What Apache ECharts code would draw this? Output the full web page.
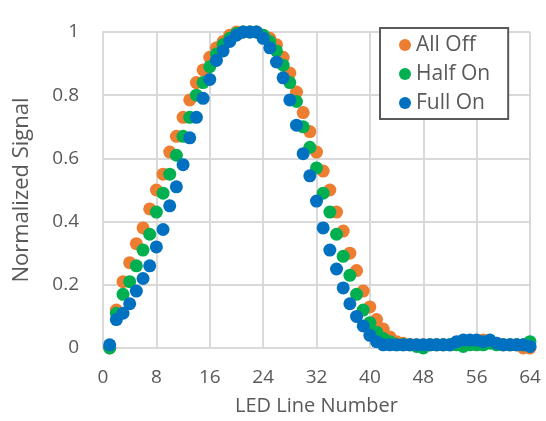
<!DOCTYPE html>
<html>
<head>
<meta charset="utf-8">
<script src="https://cdn.jsdelivr.net/npm/echarts@6/dist/echarts.min.js"></script>
<style>
  html, body { margin: 0; padding: 0; background: #fff; }
  #chart { width: 546px; height: 421px; }
</style>
</head>
<body>
<div id="chart"></div>
<script>
// LED line index along the strip
const lineNumbers = [
  1, 2, 3, 4, 5, 6, 7, 8, 9, 10, 11, 12, 13, 14, 15, 16,
  17, 18, 19, 20, 21, 22, 23, 24, 25, 26, 27, 28, 29, 30, 31, 32,
  33, 34, 35, 36, 37, 38, 39, 40, 41, 42, 43, 44, 45, 46, 47, 48,
  49, 50, 51, 52, 53, 54, 55, 56, 57, 58, 59, 60, 61, 62, 63, 64
];

// Normalized signal per line, one array per illumination state
const allOff = [
  0.00, 0.12, 0.21, 0.27, 0.33, 0.38, 0.44, 0.50, 0.55, 0.62, 0.67, 0.73, 0.785, 0.84, 0.88, 0.92,
  0.95, 0.97, 0.99, 1.00, 1.00, 1.00, 1.00, 0.99, 0.98, 0.96, 0.92, 0.87, 0.81, 0.745, 0.685, 0.62,
  0.56, 0.50, 0.43, 0.37, 0.30, 0.245, 0.18, 0.13, 0.09, 0.06, 0.035, 0.02, 0.015, 0.01, 0.01, 0.01,
  0.01, 0.01, 0.01, 0.01, 0.015, 0.02, 0.02, 0.02, 0.025, 0.02, 0.015, 0.01, 0.01, 0.01, 0.00, 0.00
];
const halfOn = [
  0.00, 0.11, 0.17, 0.21, 0.26, 0.31, 0.36, 0.43, 0.49, 0.55, 0.61, 0.67, 0.73, 0.80, 0.84, 0.89,
  0.93, 0.96, 0.98, 0.995, 1.00, 1.00, 1.00, 0.99, 0.97, 0.94, 0.895, 0.84, 0.78, 0.70, 0.635, 0.57,
  0.49, 0.43, 0.36, 0.29, 0.23, 0.17, 0.12, 0.08, 0.05, 0.03, 0.02, 0.01, 0.01, 0.01, 0.005, 0.00,
  0.01, 0.01, 0.01, 0.01, 0.01, 0.005, 0.01, 0.01, 0.01, 0.015, 0.01, 0.01, 0.01, 0.01, 0.01, 0.02
];
const fullOn = [
  0.01, 0.09, 0.11, 0.14, 0.18, 0.22, 0.26, 0.32, 0.375, 0.45, 0.51, 0.58, 0.665, 0.73, 0.79, 0.85,
  0.91, 0.94, 0.97, 0.99, 1.00, 1.00, 1.00, 0.98, 0.95, 0.905, 0.855, 0.785, 0.705, 0.615, 0.545, 0.465,
  0.38, 0.31, 0.25, 0.19, 0.14, 0.10, 0.07, 0.04, 0.02, 0.01, 0.01, 0.01, 0.01, 0.01, 0.01, 0.01,
  0.01, 0.01, 0.01, 0.01, 0.02, 0.025, 0.025, 0.025, 0.02, 0.025, 0.015, 0.01, 0.01, 0.01, 0.01, 0.005
];

const seriesNames = ['All Off', 'Half On', 'Full On'];
const seriesColors = ['#ED7D31', '#00B050', '#0070C0'];
const xTicks = [0, 8, 16, 24, 32, 40, 48, 56, 64];
const yTicks = [0, 0.2, 0.4, 0.6, 0.8, 1];

const FONT = '"Open Sans"';
const TEXT = '#595959';
const GRID = '#D9D9D9';

function pairs(ys) {
  return lineNumbers.map((x, i) => [x, ys[i]]);
}

const chart = echarts.init(document.getElementById('chart'), null, { renderer: 'canvas' });

chart.setOption({
  animation: false,
  backgroundColor: '#ffffff',
  textStyle: { fontFamily: FONT, color: TEXT },
  grid: { left: 103, right: 16, top: 32, bottom: 73, containLabel: false },
  legend: {
    orient: 'vertical',
    left: 380,
    top: 28,
    data: seriesNames,
    icon: 'circle',
    itemWidth: 12,
    itemHeight: 12,
    itemGap: 7,
    padding: [6, 18, 5, 19],
    borderColor: '#595959',
    borderWidth: 2,
    backgroundColor: '#ffffff',
    textStyle: { fontFamily: FONT, fontSize: 21, color: TEXT, lineHeight: 22 }
  },
  xAxis: {
    type: 'value',
    min: xTicks[0],
    max: xTicks[xTicks.length - 1],
    interval: 8,
    name: 'LED Line Number',
    nameLocation: 'middle',
    nameGap: 48,
    nameTextStyle: { fontFamily: FONT, fontSize: 20, color: TEXT },
    axisLine: { show: true, lineStyle: { color: GRID, width: 2 } },
    axisTick: { show: false },
    axisLabel: { fontFamily: FONT, fontSize: 19, color: TEXT, margin: 20 },
    splitLine: { show: true, lineStyle: { color: GRID, width: 2 } }
  },
  yAxis: {
    type: 'value',
    min: yTicks[0],
    max: yTicks[yTicks.length - 1],
    interval: 0.2,
    name: 'Normalized Signal',
    nameLocation: 'middle',
    nameGap: 70,
    nameTextStyle: { fontFamily: FONT, fontSize: 22, color: TEXT },
    axisLine: { show: true, lineStyle: { color: GRID, width: 2 } },
    axisTick: { show: false },
    axisLabel: {
      fontFamily: FONT, fontSize: 19, color: TEXT, margin: 24,
      formatter: v => String(Math.round(v * 10) / 10)
    },
    splitLine: { show: true, lineStyle: { color: GRID, width: 2 } }
  },
  series: [allOff, halfOn, fullOn].map((ys, i) => ({
    name: seriesNames[i],
    type: 'scatter',
    symbol: 'circle',
    symbolSize: 13,
    itemStyle: { color: seriesColors[i], opacity: 1 },
    data: pairs(ys),
    z: 2 + i
  }))
});
</script>
</body>
</html>
